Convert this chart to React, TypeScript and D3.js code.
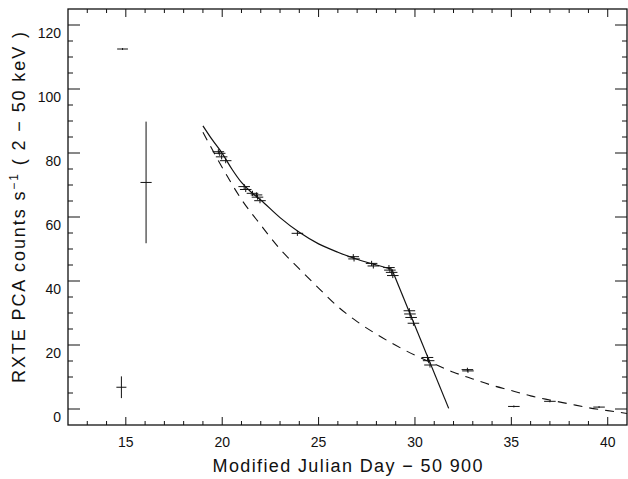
import React from "react";
import * as d3 from "d3";

// Observations (day offset, count rate, x half-error, y half-error)
const obsDay = [14.83, 16.05, 14.77, 19.8, 19.87, 19.97, 20.18, 21.14, 21.22, 21.57, 21.78, 21.83, 21.96, 23.9, 26.8, 26.84, 27.75, 27.84, 28.65, 28.7, 28.79, 28.85, 29.71, 29.74, 29.8, 29.92, 30.65, 30.71, 30.78, 32.72, 32.75, 35.13, 37.0, 39.55];
const obsRate = [112.5, 70.8, 6.8, 80.4, 79.9, 78.8, 77.6, 69.5, 68.6, 67.4, 66.9, 66.2, 65.1, 54.9, 47.6, 46.9, 45.5, 44.7, 44.2, 43.4, 42.7, 41.7, 30.7, 29.7, 28.6, 26.8, 16.1, 15.1, 13.75, 12.3, 11.9, 0.8, 2.4, 0.6];
const obsDayErr = [0.28, 0.29, 0.26, 0.3, 0.3, 0.3, 0.3, 0.3, 0.3, 0.3, 0.3, 0.3, 0.3, 0.3, 0.3, 0.3, 0.3, 0.3, 0.3, 0.3, 0.3, 0.3, 0.3, 0.3, 0.3, 0.3, 0.3, 0.3, 0.3, 0.3, 0.3, 0.3, 0.3, 0.3];
const obsRateErr = [0.3, 19, 3.4, 0.8, 0.8, 0.8, 0.8, 0.8, 0.8, 0.8, 0.8, 0.8, 0.8, 0.8, 0.8, 0.8, 0.8, 0.8, 0.8, 0.8, 0.8, 0.8, 0.8, 0.8, 0.8, 0.8, 0.8, 0.8, 0.8, 0.6, 0.6, 0.3, 0.3, 0.3];

// Solid model curve
const solidDay = [19.0, 19.5, 20.0, 20.5, 21.0, 21.5, 22.0, 23.0, 24.0, 25.0, 26.0, 27.0, 28.0, 28.8, 31.75];
const solidRate = [88.5, 84.0, 79.9, 75.0, 70.8, 67.8, 65.3, 59.8, 55.2, 51.6, 49.0, 46.8, 45.0, 43.7, 0.2];

// Dashed model curve
const dashDay = [19, 20, 21, 22, 23, 24, 25, 26, 27, 28, 29, 30, 31, 32, 33, 34, 35, 36, 37, 38, 39, 40, 41];
const dashRate = [86.5, 75.5, 65.5, 57.5, 50.0, 43.8, 37.8, 32.0, 27.3, 23.4, 19.9, 16.8, 14.1, 11.5, 9.4, 7.4, 5.8, 4.1, 2.8, 1.6, 0.4, -0.5, -1.4];

const xMajorTicks = [15, 20, 25, 30, 35, 40];
const yMajorTicks = [0, 20, 40, 60, 80, 100, 120];

const W = 628;
const H = 479;
const L = 68, R = 627, T = 9, B = 425;
const FONT = "'Liberation Sans', Arial, sans-serif";
const INK = "#111";

export default function App() {
  const x = d3.scaleLinear().domain([12, 41]).range([L, R]);
  const y = d3.scaleLinear().domain([-5, 125]).range([B, T]);

  const xMinor = d3.range(13, 41, 1).filter((v) => v % 5 !== 0);
  const yMinor = d3.range(5, 125, 5).filter((v) => v % 20 !== 0);

  const line = d3
    .line<[number, number]>()
    .x((d) => x(d[0]))
    .y((d) => y(d[1]));
  const curveLine = d3
    .line<[number, number]>()
    .x((d) => x(d[0]))
    .y((d) => y(d[1]))
    .curve(d3.curveMonotoneX);

  const solidPts: [number, number][] = solidDay.map((d, i) => [d, solidRate[i]]);
  const curvedPart = solidPts.slice(0, solidPts.length - 1);
  const straightPart = solidPts.slice(solidPts.length - 2);
  const dashPts: [number, number][] = dashDay.map((d, i) => [d, dashRate[i]]);

  const xMajLen = 8, xMinLen = 4, yMajLen = 12, yMinLen = 5;

  return (
    <svg
      width={W}
      height={H}
      style={{ position: "absolute", left: 0, top: 0, background: "#fff" }}
    >
      <defs>
        <clipPath id="plotclip">
          <rect x={L} y={T} width={R - L} height={B - T} />
        </clipPath>
      </defs>
      <rect x={0} y={0} width={W} height={H} fill="#fff" />

      {/* ticks */}
      <g stroke={INK} strokeWidth={1}>
        {xMajorTicks.map((v) => (
          <g key={"xm" + v}>
            <line x1={x(v)} x2={x(v)} y1={B} y2={B - xMajLen} />
            <line x1={x(v)} x2={x(v)} y1={T} y2={T + xMajLen} />
          </g>
        ))}
        {xMinor.map((v) => (
          <g key={"xn" + v}>
            <line x1={x(v)} x2={x(v)} y1={B} y2={B - xMinLen} />
            <line x1={x(v)} x2={x(v)} y1={T} y2={T + xMinLen} />
          </g>
        ))}
        {yMajorTicks.map((v) => (
          <g key={"ym" + v}>
            <line x1={L} x2={L + yMajLen} y1={y(v)} y2={y(v)} />
            <line x1={R} x2={R - yMajLen} y1={y(v)} y2={y(v)} />
          </g>
        ))}
        {yMinor.map((v) => (
          <g key={"yn" + v}>
            <line x1={L} x2={L + yMinLen} y1={y(v)} y2={y(v)} />
            <line x1={R} x2={R - yMinLen} y1={y(v)} y2={y(v)} />
          </g>
        ))}
      </g>

      {/* frame */}
      <rect x={L} y={T} width={R - L} height={B - T} fill="none" stroke={INK} strokeWidth={1.3} />

      {/* tick labels */}
      <g fontFamily={FONT} fontSize={14} fill={INK}>
        {xMajorTicks.map((v) => (
          <text key={"xl" + v} x={x(v)} y={447} textAnchor="middle">
            {v}
          </text>
        ))}
        {yMajorTicks.map((v) => (
          <text key={"yl" + v} x={61} y={y(v) + 12.5} textAnchor="end">
            {v}
          </text>
        ))}
      </g>

      {/* axis titles */}
      <text
        x={(L + R) / 2}
        y={472}
        textAnchor="middle"
        fontFamily={FONT}
        fontSize={18}
        fill={INK}
        textLength={270}
        lengthAdjust="spacing"
      >
        Modified Julian Day − 50 900
      </text>
      <text
        transform={`translate(25,${207.5}) rotate(-90)`}
        textAnchor="middle"
        fontFamily={FONT}
        fontSize={18}
        fill={INK}
        textLength={351}
        lengthAdjust="spacing"
      >
        <tspan>RXTE PCA counts s</tspan>
        <tspan fontSize={12} dy={-7}>−1</tspan>
        <tspan dy={7}> ( 2 − 50 keV )</tspan>
      </text>

      <g clipPath="url(#plotclip)">
        {/* dashed model */}
        <path d={curveLine(dashPts) || ""} fill="none" stroke={INK} strokeWidth={1.1} strokeDasharray="9,7" />
        {/* solid model */}
        <path d={curveLine(curvedPart) || ""} fill="none" stroke={INK} strokeWidth={1.2} />
        <path d={line(straightPart) || ""} fill="none" stroke={INK} strokeWidth={1.2} />

        {/* data with error bars */}
        <g stroke={INK} strokeWidth={1}>
          {obsDay.map((d, i) => (
            <g key={"p" + i}>
              <line
                x1={x(d - obsDayErr[i])}
                x2={x(d + obsDayErr[i])}
                y1={y(obsRate[i])}
                y2={y(obsRate[i])}
              />
              <line
                x1={x(d)}
                x2={x(d)}
                y1={y(obsRate[i] - obsRateErr[i])}
                y2={y(obsRate[i] + obsRateErr[i])}
              />
            </g>
          ))}
        </g>
      </g>
    </svg>
  );
}
